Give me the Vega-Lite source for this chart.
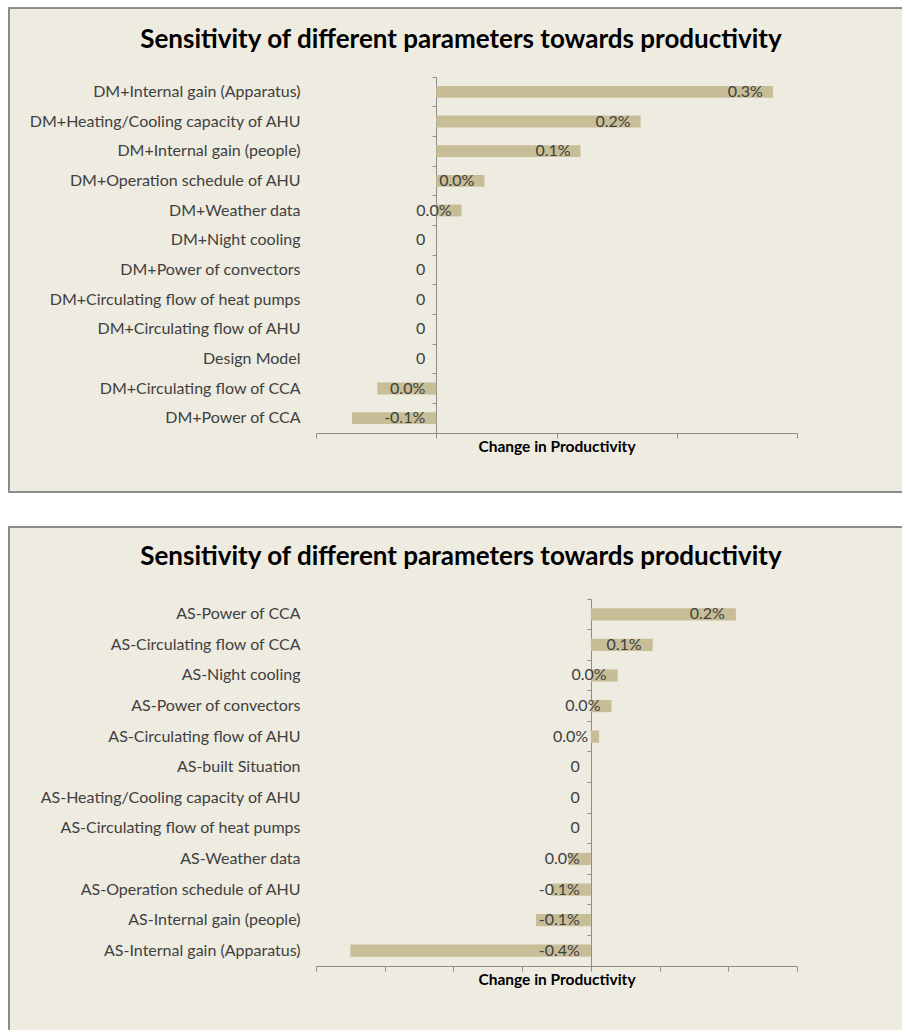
{
  "$schema": "https://vega.github.io/schema/vega-lite/v6.json",
  "background": "white",
  "padding": {"left": 8, "top": 7, "right": 0, "bottom": 0},
  "spacing": 33,
  "config": {
    "view": {"fill": "#EEEBE1", "stroke": "#8c8c8c", "strokeWidth": 2},
    "font": "Lato",
    "axis": {"grid": false, "domainColor": "#8c8c8c", "tickColor": "#8c8c8c"}
  },
  "vconcat": [
    {
      "width": 894,
      "height": 484,
      "title": {"text": "Sensitivity of different parameters towards productivity", "fontSize": 26, "fontWeight": "bold", "font": "Lato", "color": "#000000", "anchor": "middle", "frame": "group", "offset": -66, "baseline": "alphabetic", "dx": 5},
      "data": {"values": [
        {"param": "DM+Internal gain (Apparatus)", "value": 0.00280, "label": "0.3%"},
        {"param": "DM+Heating/Cooling capacity of AHU", "value": 0.00170, "label": "0.2%"},
        {"param": "DM+Internal gain (people)", "value": 0.00120, "label": "0.1%"},
        {"param": "DM+Operation schedule of AHU", "value": 0.00040, "label": "0.0%"},
        {"param": "DM+Weather data", "value": 0.00021, "label": "0.0%"},
        {"param": "DM+Night cooling\u00a0", "value": 0, "label": "0"},
        {"param": "DM+Power of convectors", "value": 0, "label": "0"},
        {"param": "DM+Circulating flow of heat pumps", "value": 0, "label": "0"},
        {"param": "DM+Circulating flow of AHU", "value": 0, "label": "0"},
        {"param": "Design Model", "value": 0, "label": "0"},
        {"param": "DM+Circulating flow of CCA", "value": -0.00049, "label": "0.0%"},
        {"param": "DM+Power of CCA", "value": -0.00070, "label": "-0.1%"}
      ]},
      "layer": [
        {
          "mark": {"type": "bar", "color": "#C7BE97", "height": {"band": 0.4}},
          "encoding": {
            "y": {"field": "param", "type": "nominal", "sort": null,
              "scale": {"range": [69, 425], "paddingInner": 0, "paddingOuter": 0},
              "axis": {"orient": "left", "offset": -295, "labelPadding": 4, "ticks": false, "domain": false, "labelFontSize": 16, "labelColor": "#404040", "labelFont": "Lato", "title": null, "labelLimit": 400}},
            "x": {"field": "value", "type": "quantitative", "title": "Change in Productivity",
              "scale": {"domain": [-0.001, 0.003], "range": [307, 788], "nice": false, "zero": false},
              "axis": {"orient": "bottom", "offset": -59, "values": [-0.001, 0, 0.001, 0.002, 0.003], "labels": false, "tickSize": 5, "titleFontSize": 15.5, "titleFontWeight": "bold", "titleColor": "#000000", "titleFont": "Lato", "titlePadding": 1}}
          }
        },
        {
          "transform": [{"filter": "datum.value > 0"}],
          "mark": {"type": "text", "align": "right", "baseline": "middle", "dx": -10, "fontSize": 16, "color": "#404040"},
          "encoding": {
            "y": {"field": "param", "type": "nominal", "sort": null,
              "axis": {"orient": "left", "offset": -427, "bandPosition": 0, "labels": false, "ticks": true, "tickSize": 4, "domain": true, "title": null}},
            "x": {"field": "value", "type": "quantitative", "title": "Change in Productivity"},
            "text": {"field": "label"}
          }
        },
        {
          "transform": [{"filter": "datum.value <= 0"}],
          "mark": {"type": "text", "align": "right", "baseline": "middle", "dx": -11, "fontSize": 16, "color": "#404040"},
          "encoding": {
            "y": {"field": "param", "type": "nominal", "sort": null, "axis": null},
            "x": {"datum": 0, "type": "quantitative", "title": "Change in Productivity"},
            "text": {"field": "label"}
          }
        }
      ],
      "resolve": {"axis": {"y": "independent"}}
    },
    {
      "width": 894,
      "height": 506,
      "title": {"text": "Sensitivity of different parameters towards productivity", "fontSize": 26, "fontWeight": "bold", "font": "Lato", "color": "#000000", "anchor": "middle", "frame": "group", "offset": -64, "baseline": "alphabetic", "dx": 5},
      "data": {"values": [
        {"param": "AS-Power of CCA", "value": 0.00211, "label": "0.2%"},
        {"param": "AS-Circulating flow of CCA", "value": 0.00090, "label": "0.1%"},
        {"param": "AS-Night cooling\u00a0", "value": 0.00039, "label": "0.0%"},
        {"param": "AS-Power of convectors", "value": 0.00030, "label": "0.0%"},
        {"param": "AS-Circulating flow of AHU", "value": 0.00012, "label": "0.0%"},
        {"param": "AS-built Situation", "value": 0, "label": "0"},
        {"param": "AS-Heating/Cooling capacity of AHU", "value": 0, "label": "0"},
        {"param": "AS-Circulating flow of heat pumps", "value": 0, "label": "0"},
        {"param": "AS-Weather data", "value": -0.00033, "label": "0.0%"},
        {"param": "AS-Operation schedule of AHU", "value": -0.00058, "label": "-0.1%"},
        {"param": "AS-Internal gain (people)", "value": -0.00080, "label": "-0.1%"},
        {"param": "AS-Internal gain (Apparatus)", "value": -0.00350, "label": "-0.4%"}
      ]},
      "layer": [
        {
          "mark": {"type": "bar", "color": "#C7BE97", "height": {"band": 0.4}},
          "encoding": {
            "y": {"field": "param", "type": "nominal", "sort": null,
              "scale": {"range": [72, 439], "paddingInner": 0, "paddingOuter": 0},
              "axis": {"orient": "left", "offset": -295, "labelPadding": 4, "ticks": false, "domain": false, "labelFontSize": 16, "labelColor": "#404040", "labelFont": "Lato", "title": null, "labelLimit": 400}},
            "x": {"field": "value", "type": "quantitative", "title": "Change in Productivity",
              "scale": {"domain": [-0.004, 0.003], "range": [307, 788], "nice": false, "zero": false},
              "axis": {"orient": "bottom", "offset": -67, "values": [-0.004, -0.003, -0.002, -0.001, 0, 0.001, 0.002, 0.003], "labels": false, "tickSize": 5, "titleFontSize": 15.5, "titleFontWeight": "bold", "titleColor": "#000000", "titleFont": "Lato", "titlePadding": 1}}
          }
        },
        {
          "transform": [{"filter": "datum.value > 0"}],
          "mark": {"type": "text", "align": "right", "baseline": "middle", "dx": -11, "fontSize": 16, "color": "#404040"},
          "encoding": {
            "y": {"field": "param", "type": "nominal", "sort": null,
              "axis": {"orient": "left", "offset": -582, "bandPosition": 0, "labels": false, "ticks": true, "tickSize": 4, "domain": true, "title": null}},
            "x": {"field": "value", "type": "quantitative", "title": "Change in Productivity"},
            "text": {"field": "label"}
          }
        },
        {
          "transform": [{"filter": "datum.value <= 0"}],
          "mark": {"type": "text", "align": "right", "baseline": "middle", "dx": -11, "fontSize": 16, "color": "#404040"},
          "encoding": {
            "y": {"field": "param", "type": "nominal", "sort": null, "axis": null},
            "x": {"datum": 0, "type": "quantitative", "title": "Change in Productivity"},
            "text": {"field": "label"}
          }
        }
      ],
      "resolve": {"axis": {"y": "independent"}}
    }
  ]
}
